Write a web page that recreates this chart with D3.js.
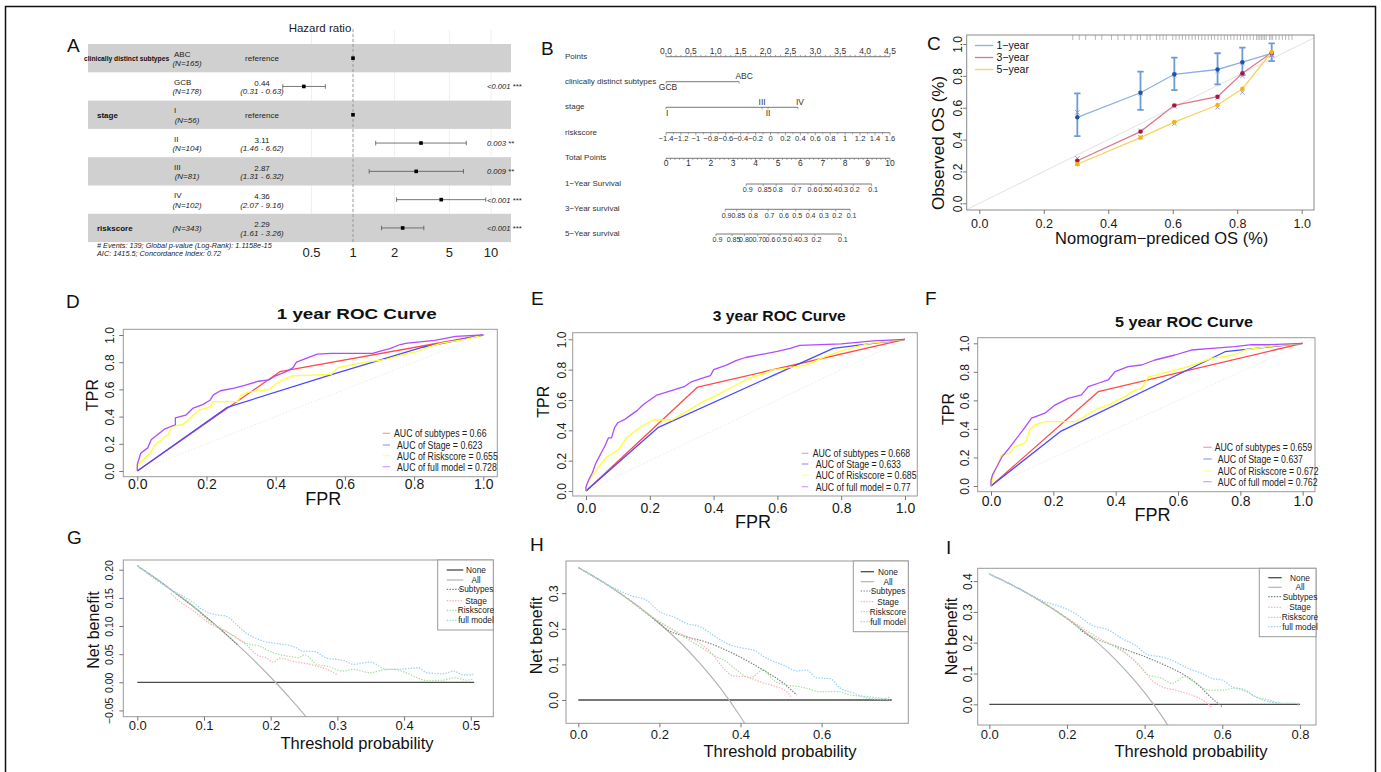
<!DOCTYPE html>
<html>
<head>
<meta charset="utf-8">
<title>Prognostic model: Cox model, nomogram, calibration, ROC and decision curves</title>
<script src="https://cdn.jsdelivr.net/npm/d3@7"></script>
<style>
  html, body { margin: 0; padding: 0; background: #fff; }
  svg { display: block; font-family: "Liberation Sans", Arial, Helvetica, sans-serif; }
</style>
</head>
<body>
<svg id="fig" width="1381" height="772"></svg>
<script>
// ---------------- A: multivariable Cox model ----------------
const forestVariables = ["clinically distinct subtypes", "", "stage", "", "", "", "riskscore"];
const forestLevels = ["ABC", "GCB", "I", "II", "III", "IV", ""];
const forestN = [165, 178, 56, 104, 81, 102, 343];
const forestHR = [1, 0.44, 1, 3.11, 2.87, 4.36, 2.29];
const forestLower = [null, 0.31, null, 1.46, 1.31, 2.07, 1.61];
const forestUpper = [null, 0.63, null, 6.62, 6.32, 9.16, 3.26];
const forestP = ["", "<0.001 ***", "", "0.003 **", "0.009 **", "<0.001 ***", "<0.001 ***"];
const forestTicks = [0.5, 1, 2, 5, 10];
const forestFooter = ["# Events: 139; Global p-value (Log-Rank): 1.1158e-15",
                      "AIC: 1415.5; Concordance Index: 0.72"];

// ---------------- B: nomogram ----------------
const nomoRows = ["Points", "clinically distinct subtypes", "stage", "riskscore", "Total Points",
                  "1\u2212Year Survival", "3\u2212Year survival", "5\u2212Year survival"];
const pointsTicks = [0, 0.5, 1, 1.5, 2, 2.5, 3, 3.5, 4, 4.5];
const subtypeLevels = ["GCB", "ABC"];
const subtypePoints = [0, 1.47];
const stageLevels = ["I", "II", "III", "IV"];
const stagePoints = [0, 2.05, 1.93, 2.65];
const riskscoreTicks = [-1.4, -1.2, -1, -0.8, -0.6, -0.4, -0.2, 0, 0.2, 0.4, 0.6, 0.8, 1, 1.2, 1.4, 1.6];
const totalPointsTicks = [0, 1, 2, 3, 4, 5, 6, 7, 8, 9, 10];
const surv1Labels = ["0.9", "0.85", "0.8", "0.7", "0.6", "0.5", "0.4", "0.3", "0.2", "0.1"];
const surv1Points = [3.58, 4.34, 4.92, 5.76, 6.47, 6.95, 7.39, 7.84, 8.36, 9.18];
const surv3Labels = ["0.9", "0.85", "0.8", "0.7", "0.6", "0.5", "0.4", "0.3", "0.2", "0.1"];
const surv3Points = [2.64, 3.16, 3.82, 4.56, 5.2, 5.79, 6.39, 6.98, 7.58, 8.22];
const surv5Labels = ["0.9", "0.85", "0.80", "0.70", "0.6", "0.5", "0.4", "0.3", "0.2", "0.1"];
const surv5Points = [2.23, 2.95, 3.5, 4.1, 4.6, 5.1, 5.6, 6.05, 6.65, 7.83];

// ---------------- C: calibration ----------------
const calPredicted = [0.304, 0.5, 0.605, 0.739, 0.816, 0.907];
const calObs1 = [0.54, 0.694, 0.81, 0.84, 0.886, 0.941];
const calLow1 = [0.422, 0.586, 0.711, 0.747, 0.805, 0.893];
const calHigh1 = [0.69, 0.826, 0.914, 0.942, 0.977, 1.004];
const calCorr1 = [0.571, 0.69, 0.805, 0.83, 0.88, 0.93];
const calObs3 = [0.267, 0.45, 0.615, 0.669, 0.816, 0.945];
const calCorr3 = [0.282, 0.455, 0.61, 0.665, 0.8, 0.93];
const calObs5 = [0.245, 0.412, 0.51, 0.617, 0.719, 0.95];
const calCorr5 = [0.25, 0.415, 0.5, 0.603, 0.697, 0.935];
const calRug = [0.29, 0.31, 0.33, 0.36, 0.38, 0.41, 0.43, 0.45, 0.47, 0.49, 0.5, 0.52, 0.53, 0.55,
  0.56, 0.57, 0.58, 0.6, 0.61, 0.62, 0.63, 0.64, 0.65, 0.66, 0.67, 0.68, 0.69, 0.7, 0.71, 0.72,
  0.73, 0.74, 0.75, 0.76, 0.77, 0.78, 0.79, 0.8, 0.81, 0.82, 0.83, 0.84, 0.85, 0.86, 0.865,
  0.87, 0.875, 0.88, 0.885, 0.89, 0.9, 0.905, 0.91, 0.92, 0.93, 0.94, 0.95, 0.96, 0.97];
const calLegend = ["1\u2212year", "3\u2212year", "5\u2212year"];

// ---------------- D-F: time-dependent ROC curves (FPR, TPR) ----------------
const rocSubtypes1 = [[0, 0], [0.412, 0.73], [1, 1]];
const rocStage1 = [[0, 0], [0.26, 0.468], [0.566, 0.713], [0.825, 0.91], [1, 1]];
const rocRisk1 = [[0, 0], [0, 0.04], [0.02, 0.09], [0.04, 0.14], [0.05, 0.19], [0.07, 0.23], [0.09, 0.27],
  [0.1, 0.33], [0.13, 0.34], [0.15, 0.38], [0.17, 0.43], [0.18, 0.45], [0.21, 0.47], [0.22, 0.51],
  [0.29, 0.51], [0.3, 0.56], [0.32, 0.58], [0.38, 0.6], [0.4, 0.64], [0.42, 0.67], [0.45, 0.7],
  [0.56, 0.71], [0.58, 0.76], [0.62, 0.78], [0.66, 0.8], [0.72, 0.82], [0.76, 0.85], [0.81, 0.88],
  [0.84, 0.91], [0.88, 0.94], [0.95, 0.97], [1, 1]];
const rocFull1 = [[0, 0], [0, 0.05], [0.01, 0.13], [0.03, 0.17], [0.04, 0.23], [0.06, 0.27], [0.08, 0.31],
  [0.11, 0.34], [0.11, 0.39], [0.14, 0.41], [0.16, 0.46], [0.19, 0.49], [0.21, 0.52], [0.22, 0.56],
  [0.24, 0.59], [0.28, 0.61], [0.31, 0.63], [0.35, 0.66], [0.38, 0.67], [0.4, 0.7], [0.43, 0.73],
  [0.45, 0.76], [0.46, 0.8], [0.49, 0.83], [0.52, 0.86], [0.56, 0.865], [0.68, 0.865], [0.7, 0.88],
  [0.73, 0.9], [0.76, 0.93], [0.78, 0.94], [0.86, 0.96], [0.92, 0.99], [1, 1]];
const rocSubtypes3 = [[0, 0], [0.35, 0.685], [1, 1]];
const rocStage3 = [[0, 0], [0.227, 0.42], [0.775, 0.94], [1, 1]];
const rocRisk3 = [[0, 0], [0, 0.03], [0.01, 0.07], [0.04, 0.16], [0.066, 0.226], [0.1, 0.27], [0.13, 0.358],
  [0.17, 0.42], [0.21, 0.468], [0.27, 0.468], [0.305, 0.512], [0.357, 0.578], [0.4, 0.622],
  [0.44, 0.666], [0.5, 0.732], [0.565, 0.78], [0.585, 0.798], [0.69, 0.83], [0.75, 0.886],
  [0.81, 0.93], [0.89, 0.973], [1, 1]];
const rocFull3 = [[0, 0], [0, 0.03], [0.01, 0.08], [0.02, 0.12], [0.03, 0.18], [0.04, 0.22], [0.05, 0.26],
  [0.06, 0.3], [0.07, 0.35], [0.08, 0.35], [0.09, 0.42], [0.1, 0.45], [0.12, 0.47], [0.14, 0.5],
  [0.16, 0.53], [0.18, 0.57], [0.2, 0.6], [0.22, 0.63], [0.25, 0.65], [0.28, 0.67], [0.31, 0.69],
  [0.33, 0.72], [0.36, 0.74], [0.39, 0.76], [0.4, 0.8], [0.44, 0.83], [0.47, 0.86], [0.5, 0.88],
  [0.55, 0.9], [0.6, 0.92], [0.64, 0.94], [0.67, 0.96], [0.8, 0.97], [0.85, 0.98], [0.9, 0.99], [1, 1]];
const rocSubtypes5 = [[0, 0], [0.344, 0.661], [1, 1]];
const rocStage5 = [[0, 0], [0.225, 0.385], [0.751, 0.941], [1, 1]];
const rocRisk5 = [[0, 0], [0.007, 0.065], [0.023, 0.159], [0.034, 0.217], [0.06, 0.23], [0.077, 0.276],
  [0.109, 0.3], [0.125, 0.393], [0.141, 0.428], [0.173, 0.451], [0.27, 0.451], [0.29, 0.475],
  [0.334, 0.533], [0.376, 0.568], [0.419, 0.614], [0.462, 0.672], [0.483, 0.684], [0.505, 0.765],
  [0.569, 0.8], [0.633, 0.837], [0.708, 0.895], [0.782, 0.918], [0.815, 0.953], [0.89, 0.977], [1, 1]];
const rocFull5 = [[0, 0], [0, 0.04], [0.005, 0.08], [0.02, 0.14], [0.034, 0.2], [0.06, 0.27], [0.077, 0.32],
  [0.103, 0.393], [0.13, 0.475], [0.173, 0.51], [0.205, 0.567], [0.248, 0.614], [0.29, 0.638],
  [0.312, 0.696], [0.344, 0.72], [0.376, 0.743], [0.398, 0.802], [0.44, 0.837], [0.483, 0.848],
  [0.526, 0.883], [0.59, 0.918], [0.643, 0.953], [0.708, 0.965], [0.782, 0.977], [0.836, 0.99],
  [0.89, 0.99], [1, 1]];
const aucLabels1 = ["AUC of subtypes = 0.66", "AUC of Stage = 0.623", "AUC of Riskscore = 0.655", "AUC of full model = 0.728"];
const aucLabels3 = ["AUC of subtypes = 0.668", "AUC of Stage = 0.633", "AUC of Riskscore = 0.685", "AUC of full model = 0.77"];
const aucLabels5 = ["AUC of subtypes = 0.659", "AUC of Stage = 0.637", "AUC of Riskscore = 0.672", "AUC of full model = 0.762"];

// ---------------- G-I: decision curves (threshold, net benefit) ----------------
const dcaNames = ["None", "All", "Subtypes", "Stage", "Riskscore", "full model"];
const dcaNone1 = [[0, 0], [0.505, 0]];
const dcaAll1 = [[0, 0.207], [0.025, 0.187], [0.05, 0.165], [0.075, 0.143], [0.1, 0.119], [0.125, 0.094],
  [0.15, 0.067], [0.175, 0.039], [0.2, 0.009], [0.225, -0.023], [0.25, -0.057], [0.26, -0.072]];
const dcaSubtypes1 = [[0, 0.207], [0.05, 0.165], [0.1, 0.119], [0.15, 0.067]];
const dcaStage1 = [[0.05, 0.158], [0.062, 0.145], [0.084, 0.127], [0.109, 0.104], [0.134, 0.09], [0.164, 0.066],
  [0.179, 0.049], [0.194, 0.043], [0.204, 0.036], [0.214, 0.043], [0.234, 0.037], [0.259, 0.032],
  [0.284, 0.023], [0.301, 0.013]];
const dcaRisk1 = [[0, 0.207], [0.05, 0.165], [0.08, 0.14], [0.104, 0.112], [0.134, 0.09], [0.164, 0.069],
  [0.184, 0.064], [0.199, 0.055], [0.214, 0.049], [0.229, 0.046], [0.241, 0.044], [0.251, 0.049],
  [0.269, 0.032], [0.284, 0.029], [0.309, 0.02], [0.324, 0.023], [0.349, 0.017], [0.369, 0.022],
  [0.384, 0.023], [0.409, 0.014], [0.424, 0.006], [0.434, 0.003], [0.459, 0.004], [0.474, 0.008],
  [0.494, 0.004], [0.504, 0.006]];
const dcaFull1 = [[0, 0.207], [0.05, 0.165], [0.07, 0.152], [0.084, 0.142], [0.099, 0.128], [0.119, 0.12],
  [0.134, 0.117], [0.149, 0.102], [0.164, 0.087], [0.184, 0.075], [0.214, 0.068], [0.234, 0.064],
  [0.249, 0.055], [0.264, 0.055], [0.284, 0.043], [0.309, 0.039], [0.324, 0.032], [0.349, 0.036],
  [0.374, 0.023], [0.404, 0.024], [0.421, 0.026], [0.434, 0.017], [0.459, 0.015], [0.474, 0.02],
  [0.489, 0.013], [0.504, 0.014]];
const dcaNone3 = [[0, 0], [0.773, 0]];
const dcaAll3 = [[0, 0.372], [0.05, 0.339], [0.1, 0.302], [0.15, 0.261], [0.2, 0.215], [0.25, 0.163],
  [0.3, 0.103], [0.35, 0.034], [0.4, -0.047], [0.42, -0.083]];
const dcaSubtypes3 = [[0, 0.372], [0.1, 0.302], [0.2, 0.215], [0.22, 0.197], [0.26, 0.18], [0.317, 0.162],
  [0.39, 0.126], [0.456, 0.084], [0.506, 0.047], [0.539, 0.014]];
const dcaStage3 = [[0, 0.372], [0.1, 0.302], [0.17, 0.243], [0.2, 0.22], [0.251, 0.187], [0.3, 0.159],
  [0.333, 0.126], [0.358, 0.089], [0.382, 0.068], [0.415, 0.065], [0.448, 0.051], [0.481, 0.04],
  [0.514, 0.023], [0.526, 0.006]];
const dcaRisk3 = [[0, 0.372], [0.1, 0.302], [0.17, 0.243], [0.2, 0.22], [0.251, 0.184], [0.3, 0.15],
  [0.333, 0.126], [0.366, 0.107], [0.391, 0.084], [0.424, 0.062], [0.456, 0.084], [0.481, 0.056],
  [0.514, 0.042], [0.547, 0.037], [0.563, 0.033], [0.596, 0.023], [0.637, 0.024], [0.67, 0.014],
  [0.719, 0.009], [0.768, 0]];
const dcaFull3 = [[0, 0.372], [0.062, 0.33], [0.128, 0.294], [0.169, 0.28], [0.2, 0.248], [0.234, 0.234],
  [0.267, 0.215], [0.3, 0.206], [0.333, 0.182], [0.366, 0.159], [0.399, 0.147], [0.432, 0.14],
  [0.465, 0.117], [0.506, 0.098], [0.539, 0.082], [0.563, 0.084], [0.588, 0.062], [0.621, 0.06],
  [0.645, 0.034], [0.678, 0.02], [0.711, 0.006], [0.744, 0.002], [0.768, 0.008]];
const dcaNone5 = [[0, 0], [0.8, 0]];
const dcaAll5 = [[0, 0.423], [0.05, 0.393], [0.1, 0.359], [0.15, 0.321], [0.2, 0.279], [0.25, 0.231],
  [0.3, 0.176], [0.35, 0.112], [0.4, 0.038], [0.45, -0.049], [0.46, -0.069]];
const dcaSubtypes5 = [[0, 0.423], [0.1, 0.359], [0.2, 0.279], [0.26, 0.22], [0.281, 0.209], [0.341, 0.182],
  [0.41, 0.15], [0.461, 0.122], [0.496, 0.1], [0.539, 0.062], [0.573, 0.02], [0.599, -0.007]];
const dcaStage5 = [[0, 0.423], [0.1, 0.359], [0.16, 0.313], [0.221, 0.264], [0.272, 0.222], [0.324, 0.187],
  [0.367, 0.149], [0.393, 0.117], [0.418, 0.079], [0.436, 0.062], [0.479, 0.046], [0.522, 0.03],
  [0.556, 0.008], [0.573, -0.011]];
const dcaRisk5 = [[0, 0.423], [0.1, 0.359], [0.2, 0.279], [0.238, 0.243], [0.272, 0.214], [0.324, 0.187],
  [0.358, 0.16], [0.384, 0.128], [0.41, 0.095], [0.444, 0.085], [0.47, 0.068], [0.504, 0.09],
  [0.539, 0.062], [0.564, 0.046], [0.599, 0.046], [0.633, 0.053], [0.659, 0.043], [0.685, 0.025],
  [0.719, 0.014], [0.754, 0.003], [0.788, 0.003], [0.8, -0.007]];
const dcaFull5 = [[0, 0.423], [0.075, 0.376], [0.143, 0.333], [0.186, 0.316], [0.221, 0.295], [0.264, 0.257],
  [0.307, 0.241], [0.341, 0.214], [0.376, 0.192], [0.41, 0.16], [0.444, 0.154], [0.479, 0.138],
  [0.513, 0.116], [0.548, 0.1], [0.573, 0.084], [0.599, 0.079], [0.625, 0.057], [0.659, 0.046],
  [0.685, 0.025], [0.719, 0.009], [0.762, 0.003], [0.8, 0.003]];

// =====================================================================
const svg = d3.select("#fig");
let clipId = 0;

function addText(g, x, y, s, o = {}) {
  const t = g.append("text").attr("x", x).attr("y", y).text(s)
    .attr("font-size", o.size || 8).attr("fill", o.fill || "#111");
  if (o.anchor) t.attr("text-anchor", o.anchor);
  if (o.bold) t.attr("font-weight", "bold");
  if (o.italic) t.attr("font-style", "italic");
  if (o.len) t.attr("textLength", o.len).attr("lengthAdjust", "spacingAndGlyphs");
  if (o.squeeze) {
    const w = t.node().getComputedTextLength();
    t.attr("textLength", w * o.squeeze).attr("lengthAdjust", "spacingAndGlyphs");
  }
  return t;
}
// vertical label centred on (cx, cy), reading bottom to top
function addVText(g, cx, cy, s, o = {}) {
  return g.append("text").attr("transform", `translate(${cx},${cy}) rotate(-90)`)
    .attr("text-anchor", "middle").attr("dy", "0.35em").text(s)
    .attr("font-size", o.size || 12).attr("fill", o.fill || "#111");
}
// base-graphics style axis: ticks outside the box, y labels turned parallel to the axis
function axisR(g, scale, orient, pos, ticks, fmt, o) {
  const ax = (orient === "bottom" ? d3.axisBottom(scale) : d3.axisLeft(scale))
    .tickValues(ticks).tickFormat(fmt).tickSize(o.tick || 4).tickSizeOuter(0);
  const a = g.append("g")
    .attr("transform", orient === "bottom" ? `translate(0,${pos})` : `translate(${pos},0)`)
    .call(ax).attr("font-family", null).attr("font-size", null);
  a.select(".domain").remove();
  a.selectAll("line").attr("stroke", o.color || "#777");
  const t = a.selectAll("text").attr("font-size", o.size).attr("fill", "#1a1a1a");
  if (orient === "left") {
    t.attr("x", 0).attr("y", -o.gap).attr("dy", 0).attr("text-anchor", "middle").attr("transform", "rotate(-90)");
  } else {
    t.attr("y", o.gap).attr("dy", 0);
  }
  return a;
}
function clipBox(g, x0, x1, y0, y1) {
  const id = "clip" + (clipId++);
  g.append("clipPath").attr("id", id).append("rect")
    .attr("x", x0).attr("y", y0).attr("width", x1 - x0).attr("height", y1 - y0);
  return `url(#${id})`;
}

// outer frame
svg.append("path").attr("d", "M5.5,772V6.5H1375.5V772").attr("fill", "none")
  .attr("stroke", "#111").attr("stroke-width", 1.5);

// panel letters
[["A", 67, 52], ["B", 541, 55], ["C", 927, 50], ["D", 66, 308], ["E", 531, 305], ["F", 925, 305],
 ["G", 67, 544], ["H", 530, 551], ["I", 946, 554]].forEach(([s, x, y]) => addText(svg, x, y, s, { size: 19 }));

// ---------------- A ----------------
{
  const g = svg.append("g");
  const x = d3.scaleLog().domain([1, 10]).range([353, 491]);
  const rowH = 28.3, top = 44, left = 88, right = 511, n = forestLevels.length;
  const mid = i => top + i * rowH + rowH / 2;

  g.selectAll("line.grid").data(forestTicks).join("line").attr("class", "grid")
    .attr("x1", d => x(d)).attr("x2", d => x(d)).attr("y1", 30).attr("y2", top + n * rowH)
    .attr("stroke", "#ececec").attr("stroke-width", 0.8);
  g.selectAll("rect.band").data(d3.range(0, n, 2)).join("rect").attr("class", "band")
    .attr("x", left).attr("width", right - left).attr("y", i => top + i * rowH).attr("height", rowH)
    .attr("fill", "#d0d0d0");
  g.append("line").attr("x1", x(1)).attr("x2", x(1)).attr("y1", 29).attr("y2", top + n * rowH)
    .attr("stroke", "#8a8a8a").attr("stroke-width", 0.8).attr("stroke-dasharray", "3,2");

  forestHR.forEach((hr, i) => {
    if (forestLower[i] != null) {
      const y = mid(i);
      g.append("line").attr("x1", x(forestLower[i])).attr("x2", x(forestUpper[i])).attr("y1", y).attr("y2", y)
        .attr("stroke", "#555").attr("stroke-width", 0.8);
      [forestLower[i], forestUpper[i]].forEach(v =>
        g.append("line").attr("x1", x(v)).attr("x2", x(v)).attr("y1", y - 2.3).attr("y2", y + 2.3)
          .attr("stroke", "#555").attr("stroke-width", 0.8));
    }
    g.append("rect").attr("x", x(hr) - 1.8).attr("y", mid(i) - 1.8).attr("width", 3.6).attr("height", 3.6).attr("fill", "#000");

    const m = mid(i);
    if (forestVariables[i]) {
      const long = forestVariables[i].length > 12;
      addText(g, long ? 84 : 97, m + 3, forestVariables[i], { size: long ? 6.7 : 8, bold: true });
    }
    if (forestLevels[i]) {
      addText(g, 174, m - 1.5, forestLevels[i], { size: 8, fill: "#222" });
      addText(g, 187, m + 8, `(N=${forestN[i]})`, { size: 8, italic: true, anchor: "middle", fill: "#222" });
    } else {
      addText(g, 187, m + 3, `(N=${forestN[i]})`, { size: 8, italic: true, anchor: "middle", fill: "#222" });
    }
    if (forestLower[i] == null) {
      addText(g, 262, m + 3, "reference", { size: 8, anchor: "middle", fill: "#222" });
    } else {
      addText(g, 262, m - 0.5, hr.toFixed(2), { size: 8, anchor: "middle", fill: "#222" });
      addText(g, 262, m + 8, `(${forestLower[i].toFixed(2)} - ${forestUpper[i].toFixed(2)})`,
        { size: 8, italic: true, anchor: "middle", fill: "#222" });
    }
    if (forestP[i]) addText(g, 487, m + 3, forestP[i], { size: 7.6, italic: true, fill: "#222" });
  });

  addText(g, 320, 32, "Hazard ratio", { size: 11.5, anchor: "middle", fill: "#222" });
  forestTicks.forEach(t => addText(g, x(t), 257, String(t), { size: 13, anchor: "middle", fill: "#222" }));
  forestFooter.forEach((s, i) => addText(g, 97, 248.3 + i * 7.4, s, { size: 7.3, italic: true, fill: "#222" }));
}

// ---------------- B ----------------
{
  const g = svg.append("g");
  const ink = "#333";
  const xP = d3.scaleLinear().domain([0, 4.5]).range([666, 890]);
  const xT = d3.scaleLinear().domain([0, 10]).range([666, 890]);
  const xR = d3.scaleLinear().domain([-1.4, 1.6]).range([666, 890]);
  const rowY = [56.7, 81.7, 107.3, 132.7, 158.3, 184, 209.3, 234];
  const hline = (a, b, y) => g.append("line").attr("x1", a).attr("x2", b).attr("y1", y).attr("y2", y)
    .attr("stroke", "#555").attr("stroke-width", 0.8);
  const tick = (x, y, len) => g.append("line").attr("x1", x).attr("x2", x).attr("y1", y).attr("y2", y + len)
    .attr("stroke", "#666").attr("stroke-width", 0.6);

  nomoRows.forEach((s, i) => addText(g, 565, rowY[i] + 2, s, { size: 8, fill: ink }));

  // Points
  hline(xP(0), xP(4.5), rowY[0]);
  d3.range(0, 45.5, 1).forEach(k => tick(xP(k / 10), rowY[0], k % 5 === 0 ? -3.2 : -1.8));
  pointsTicks.forEach(v => addText(g, xP(v), rowY[0] - 3, v.toFixed(1), { size: 8.5, anchor: "middle", fill: ink }));

  // clinically distinct subtypes
  hline(xP(subtypePoints[0]), xP(subtypePoints[1]), rowY[1]);
  subtypeLevels.forEach((s, i) => {
    tick(xP(subtypePoints[i]), rowY[1], 2);
    const above = s === "ABC";
    addText(g, xP(subtypePoints[i]) + (above ? 5 : 2), above ? rowY[1] - 2.3 : rowY[1] + 8.5, s,
      { size: 8.5, anchor: "middle", fill: ink });
  });

  // stage
  hline(xP(0), xP(d3.max(stagePoints)), rowY[2]);
  stageLevels.forEach((s, i) => {
    tick(xP(stagePoints[i]), rowY[2], 2);
    const above = s === "III" || s === "IV";
    addText(g, xP(stagePoints[i]) + (s === "IV" ? 2 : 0), above ? rowY[2] - 2.8 : rowY[2] + 8.5, s,
      { size: 8.5, anchor: s === "I" ? "start" : "middle", fill: ink });
  });

  // riskscore
  hline(xR(-1.4), xR(1.6), rowY[3]);
  d3.range(-14, 16.5, 1).forEach(k => tick(xR(k / 10), rowY[3], k % 2 === 0 ? 2.6 : 1.6));
  riskscoreTicks.forEach(v => addText(g, xR(v), rowY[3] + 8.6, d3.format("")(v), { size: 7.6, anchor: "middle", fill: ink }));

  // Total points
  hline(xT(0), xT(10), rowY[4]);
  d3.range(0, 50.5, 1).forEach(k => tick(xT(k / 5), rowY[4], k % 5 === 0 ? 2.6 : 1.6));
  totalPointsTicks.forEach(v => addText(g, xT(v), rowY[4] + 8, String(v), { size: 8.5, anchor: "middle", fill: ink }));

  // survival probabilities
  [[surv1Labels, surv1Points], [surv3Labels, surv3Points], [surv5Labels, surv5Points]].forEach(([labs, pts], r) => {
    const y = rowY[5 + r];
    hline(xT(pts[0]), xT(pts[pts.length - 1]), y);
    pts.forEach((p, i) => {
      tick(xT(p), y, 2.2);
      addText(g, xT(p) + 1.5, y + 8.4, labs[i], { size: 7.1, anchor: "middle", fill: ink });
    });
  });
}

// ---------------- C ----------------
{
  const g = svg.append("g");
  const bx0 = 966.7, bx1 = 1314, by0 = 35, by1 = 210;
  const x = d3.scaleLinear().domain([0, 1]).range([979.3, 1301.7]);
  const y = d3.scaleLinear().domain([0, 1]).range([203.3, 44]);
  const clip = clipBox(g, bx0, bx1, by0, by1);
  const inner = g.append("g").attr("clip-path", clip);

  inner.append("line").attr("x1", x(-0.1)).attr("y1", y(-0.1)).attr("x2", x(1.1)).attr("y2", y(1.1))
    .attr("stroke", "#e2e2e2").attr("stroke-width", 1);

  const line = d3.line().x(d => x(d[0])).y(d => y(d[1]));
  const series = [
    { obs: calObs1, corr: calCorr1, line: "#8fb0dc", pt: "#1f56a3" },
    { obs: calObs3, corr: calCorr3, line: "#e0788a", pt: "#b3132f" },
    { obs: calObs5, corr: calCorr5, line: "#f6d45e", pt: "#f5b400" }
  ];
  // error bars for 1-year
  calPredicted.forEach((p, i) => {
    inner.append("line").attr("x1", x(p)).attr("x2", x(p)).attr("y1", y(calLow1[i])).attr("y2", y(calHigh1[i]))
      .attr("stroke", "#6c9bd5").attr("stroke-width", 1.8);
    [calLow1[i], calHigh1[i]].forEach(v =>
      inner.append("line").attr("x1", x(p) - 3.2).attr("x2", x(p) + 3.2).attr("y1", y(v)).attr("y2", y(v))
        .attr("stroke", "#6c9bd5").attr("stroke-width", 1.8));
  });
  series.forEach(s => {
    inner.append("path").attr("d", line(calPredicted.map((p, i) => [p, s.obs[i]])))
      .attr("fill", "none").attr("stroke", s.line).attr("stroke-width", 1.3);
  });
  series.forEach(s => {
    calPredicted.forEach((p, i) => {
      const cx = x(p), cy = y(s.corr[i]), r = 2.2;
      inner.append("path").attr("d", `M${cx - r},${cy - r}L${cx + r},${cy + r}M${cx - r},${cy + r}L${cx + r},${cy - r}`)
        .attr("stroke", "#8c8cf0").attr("stroke-width", 0.9);
      inner.append("circle").attr("cx", cx).attr("cy", y(s.obs[i])).attr("r", 2.2).attr("fill", s.pt);
    });
  });

  // rug of predicted values along the top edge
  g.selectAll("line.rug").data(calRug).join("line").attr("class", "rug")
    .attr("x1", d => x(d)).attr("x2", d => x(d)).attr("y1", by0).attr("y2", by0 + 5)
    .attr("stroke", "#8a8a8a").attr("stroke-width", 0.6);

  g.append("rect").attr("x", bx0).attr("y", by0).attr("width", bx1 - bx0).attr("height", by1 - by0)
    .attr("fill", "none").attr("stroke", "#8a8a8a").attr("stroke-width", 1);
  const ticks = [0, 0.2, 0.4, 0.6, 0.8, 1];
  axisR(g, x, "bottom", by1, ticks, d3.format(".1f"), { size: 12.5, gap: 18, tick: 4 });
  axisR(g, y, "left", bx0, ticks, d3.format(".1f"), { size: 12, gap: 5, tick: 3.5 });

  addVText(g, 938, 143, "Observed OS (%)", { size: 17 });
  addText(g, 1161.7, 244, "Nomogram\u2212prediced OS (%)", { size: 16.5, anchor: "middle" });

  const legY = [45.5, 57.5, 69.5];
  series.forEach((s, i) => {
    g.append("line").attr("x1", 975).attr("x2", 993.3).attr("y1", legY[i]).attr("y2", legY[i])
      .attr("stroke", s.line).attr("stroke-width", 1.3);
    addText(g, 996.5, legY[i] + 3.8, calLegend[i], { size: 10.5 });
  });
}

// ---------------- D-F ----------------
const rocColors = ["#ff4a4a", "#4a4aff", "#ffff30", "#b04cff"];
function rocPanel(c) {
  const g = svg.append("g");
  const [bx0, bx1, by0, by1] = c.box;
  const x = d3.scaleLinear().domain([0, 1]).range([c.x0, c.x1]);
  const y = d3.scaleLinear().domain([0, 1]).range([c.y0, c.y1]);
  const inner = g.append("g").attr("clip-path", clipBox(g, bx0, bx1, by0, by1));
  inner.append("line").attr("x1", x(-0.2)).attr("y1", y(-0.2)).attr("x2", x(1.2)).attr("y2", y(1.2))
    .attr("stroke", "#dcdcdc").attr("stroke-width", 0.8).attr("stroke-dasharray", "1,2");
  const line = d3.line().x(d => x(d[0])).y(d => y(d[1]));
  c.curves.forEach((d, i) => inner.append("path").attr("d", line(d)).attr("fill", "none")
    .attr("stroke", rocColors[i]).attr("stroke-width", 1.3).attr("stroke-linejoin", "round"));
  g.append("rect").attr("x", bx0).attr("y", by0).attr("width", bx1 - bx0).attr("height", by1 - by0)
    .attr("fill", "none").attr("stroke", "#9a9a9a").attr("stroke-width", 1);
  const ticks = [0, 0.2, 0.4, 0.6, 0.8, 1];
  axisR(g, x, "bottom", by1, ticks, d3.format(".1f"), { size: 14, gap: c.xLabBase - by1, tick: 4 });
  axisR(g, y, "left", bx0, ticks, d3.format(".1f"), { size: 12, gap: c.yGap, tick: 4 });
  addText(g, c.title[0], c.title[1], c.title[2], { size: 15, bold: true, anchor: "middle", len: c.title[3] });
  addText(g, c.fpr[0], c.fpr[1], "FPR", { size: 18, anchor: "middle" });
  addVText(g, c.tpr[0], c.tpr[1], "TPR", { size: 16 });
  c.legend.ty.forEach((ly, i) => {
    g.append("line").attr("x1", c.legend.x1).attr("x2", c.legend.x2).attr("y1", ly).attr("y2", ly)
      .attr("stroke", rocColors[i]).attr("stroke-opacity", 0.55).attr("stroke-width", 1.2);
    addText(g, i === 0 ? c.legend.tx - 3 : c.legend.tx, ly + 4, c.auc[i], { size: 11.5, fill: "#222", squeeze: 0.76 });
  });
}
rocPanel({ box: [123.3, 497.3, 329.3, 476.7], x0: 137.3, x1: 483.3, y0: 471, y1: 335,
  title: [356.7, 319, "1 year ROC Curve", 160], fpr: [323.3, 505], tpr: [92, 395], xLabBase: 489, yGap: 9,
  legend: { x1: 382.7, x2: 390, tx: 397, ty: [433.3, 445, 455.7, 466.7] },
  curves: [rocSubtypes1, rocStage1, rocRisk1, rocFull1], auc: aucLabels1 });
rocPanel({ box: [572.7, 917.3, 332.7, 496], x0: 586, x1: 905, y0: 491, y1: 339.3,
  title: [779.3, 321, "3 year ROC Curve", 133], fpr: [753, 528], tpr: [543, 401.7], xLabBase: 513, yGap: 6.7,
  legend: { x1: 801.7, x2: 808.3, tx: 815.7, ty: [453.3, 464, 475, 486.7] },
  curves: [rocSubtypes3, rocStage3, rocRisk3, rocFull3], auc: aucLabels3 });
rocPanel({ box: [977.7, 1315, 337.7, 491.7], x0: 991, x1: 1302.7, y0: 486, y1: 343.3,
  title: [1184, 326.5, "5 year ROC Curve", 138], fpr: [1152.5, 520.5], tpr: [948, 409], xLabBase: 505.7, yGap: 8.4,
  legend: { x1: 1203.3, x2: 1211.7, tx: 1217.7, ty: [447.3, 459, 471, 481.7] },
  curves: [rocSubtypes5, rocStage5, rocRisk5, rocFull5], auc: aucLabels5 });

// ---------------- G-I ----------------
const dcaStyles = [
  { color: "#4a4a4a", dash: null, width: 1.3 },
  { color: "#b4b4b4", dash: null, width: 1.2 },
  { color: "#7d7d7d", dash: "1.4,1.4", width: 1.2 },
  { color: "#ffadb8", dash: "1.4,1.4", width: 1.2 },
  { color: "#a3e09b", dash: "1.4,1.4", width: 1.2 },
  { color: "#9bd0f5", dash: "1.4,1.4", width: 1.3 }
];
function dcaPanel(c) {
  const g = svg.append("g");
  const [bx0, bx1, by0, by1] = c.box;
  const x = d3.scaleLinear().domain([0, 1]).range([c.x0, c.x0 + c.kx]);
  const y = d3.scaleLinear().domain([0, 1]).range([c.y0, c.y0 - c.ky]);
  const inner = g.append("g").attr("clip-path", clipBox(g, bx0, bx1, by0, by1));
  const line = d3.line().x(d => x(d[0])).y(d => y(d[1])).curve(d3.curveMonotoneX);
  c.curves.forEach((d, i) => {
    const st = dcaStyles[i];
    const p = inner.append("path").attr("d", line(d)).attr("fill", "none")
      .attr("stroke", st.color).attr("stroke-width", st.width);
    if (st.dash) p.attr("stroke-dasharray", st.dash);
  });
  g.append("rect").attr("x", bx0).attr("y", by0).attr("width", bx1 - bx0).attr("height", by1 - by0)
    .attr("fill", "none").attr("stroke", "#9a9a9a").attr("stroke-width", 1);
  axisR(g, x, "bottom", by1, c.xTicks, d3.format(".1f"), { size: 13, gap: c.xLabBase - by1, tick: 4 });
  axisR(g, y, "left", bx0, c.yTicks, d3.format(c.yFmt), { size: c.ySize, gap: c.yGap, tick: 4 });
  addText(g, c.title[0], c.title[1], "Threshold probability", { size: 16.5, anchor: "middle" });
  addVText(g, c.nb[0], c.nb[1], "Net benefit", { size: 16 });
  const [lx0, lx1, ly0, ly1] = c.legend.box;
  g.append("rect").attr("x", lx0).attr("y", ly0).attr("width", lx1 - lx0).attr("height", ly1 - ly0)
    .attr("fill", "#fff").attr("stroke", "#9a9a9a").attr("stroke-width", 1);
  c.legend.rows.forEach((ry, i) => {
    const st = dcaStyles[i];
    const l = g.append("line").attr("x1", c.legend.lx[0]).attr("x2", c.legend.lx[1]).attr("y1", ry).attr("y2", ry)
      .attr("stroke", st.color).attr("stroke-width", st.width);
    if (st.dash) l.attr("stroke-dasharray", st.dash);
    addText(g, c.legend.tx, ry + 3, dcaNames[i], { size: 8.3, anchor: "middle", fill: "#222" });
  });
}
dcaPanel({ box: [123.3, 493.3, 560, 716.7], x0: 137.3, kx: 667, y0: 682.3, ky: 562.7,
  xTicks: [0, 0.1, 0.2, 0.3, 0.4, 0.5], yTicks: [-0.05, 0, 0.05, 0.1, 0.15, 0.2], yFmt: ".2f", ySize: 10.5,
  xLabBase: 730, yGap: 10.5, title: [357, 748.5], nb: [93.3, 630],
  legend: { box: [437.7, 493.3, 560, 630], rows: [570, 580, 589.3, 600.7, 610.3, 620.3], lx: [446.7, 463.3], tx: 476 },
  curves: [dcaNone1, dcaAll1, dcaSubtypes1, dcaStage1, dcaRisk1, dcaFull1] });
dcaPanel({ box: [566, 908.3, 561, 723.3], x0: 578.3, kx: 405.5, y0: 700, ky: 356,
  xTicks: [0, 0.2, 0.4, 0.6], yTicks: [0, 0.1, 0.2, 0.3], yFmt: ".1f", ySize: 12,
  xLabBase: 739, yGap: 8.4, title: [780, 756.5], nb: [536.7, 635.5],
  legend: { box: [853.3, 908.3, 561, 631.7], rows: [571.7, 581.7, 591, 601.7, 611.7, 621.7], lx: [860.7, 874], tx: 888 },
  curves: [dcaNone3, dcaAll3, dcaSubtypes3, dcaStage3, dcaRisk3, dcaFull3] });
dcaPanel({ box: [977.7, 1316, 568.3, 725], x0: 989.3, kx: 388.3, y0: 704.3, ky: 308,
  xTicks: [0, 0.2, 0.4, 0.6, 0.8], yTicks: [0, 0.1, 0.2, 0.3, 0.4], yFmt: ".1f", ySize: 12,
  xLabBase: 739, yGap: 5.9, title: [1191, 756.5], nb: [951.7, 636.5],
  legend: { box: [1259.3, 1316, 568.3, 636.7], rows: [577.7, 587.3, 596.7, 607.3, 617.3, 626.7], lx: [1268.3, 1281.7], tx: 1300 },
  curves: [dcaNone5, dcaAll5, dcaSubtypes5, dcaStage5, dcaRisk5, dcaFull5] });
</script>
</body>
</html>
